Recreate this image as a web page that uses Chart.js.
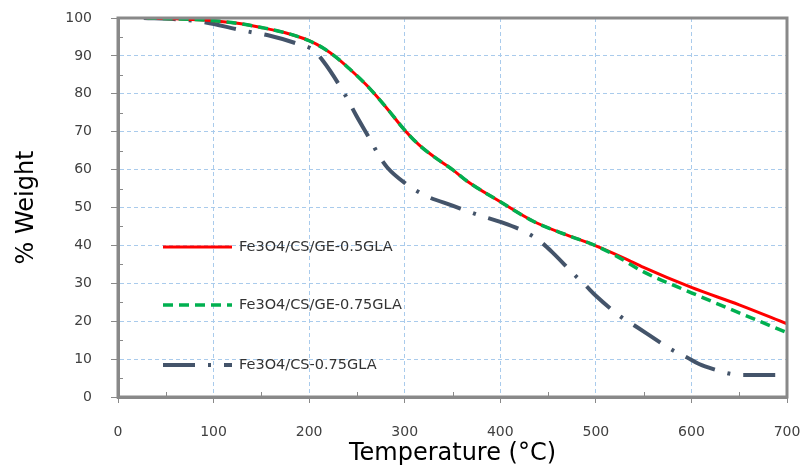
<!DOCTYPE html>
<html>
<head>
<meta charset="utf-8">
<script src="https://cdn.jsdelivr.net/npm/chart.js@4.4.1/dist/chart.umd.min.js"></script>
<style>
  html, body { margin: 0; padding: 0; background: #ffffff; }
  #wrap { width: 803px; height: 468px; }
</style>
</head>
<body>
<div id="wrap"><canvas id="tga" width="803" height="468"></canvas></div>
<script>
// TGA curves: temperature (°C) and residual weight (%)
const seriesNames = ['Fe3O4/CS/GE-0.5GLA', 'Fe3O4/CS/GE-0.75GLA', 'Fe3O4/CS-0.75GLA'];

const tempGe05 = [30, 60, 100, 125, 150, 175, 200, 215, 230, 243, 260, 280, 300, 315, 330, 350, 365, 400, 435, 470, 500, 530, 550, 600, 650, 700];
const weightGe05 = [100, 99.8, 99.3, 98.6, 97.5, 96.1, 94.0, 92.0, 89.3, 86.4, 82.3, 76.6, 70.4, 66.5, 63.5, 60.0, 57.0, 51.5, 46.3, 42.7, 39.9, 36.6, 34.2, 28.9, 24.3, 19.3];

const tempGe075 = [30, 60, 100, 125, 150, 175, 200, 215, 230, 243, 260, 280, 300, 315, 330, 350, 365, 400, 435, 470, 500, 520, 550, 600, 650, 700];
const weightGe075 = [100, 99.8, 99.3, 98.6, 97.5, 96.1, 94.0, 92.0, 89.3, 86.4, 82.3, 76.6, 70.4, 66.5, 63.5, 60.0, 57.0, 51.5, 46.3, 42.7, 39.9, 37.4, 33.0, 27.5, 22.2, 17.0];

const tempCs075 = [27, 60, 92, 125, 141, 156, 189, 204, 215, 233, 241, 249, 265, 273, 282, 300, 322, 350, 382, 400, 428, 442, 454, 477, 489, 500, 525, 539, 553, 580, 595, 608, 625, 641, 656, 672, 700];
const weightCs075 = [100, 99.7, 98.8, 97.0, 96.2, 95.5, 93.1, 91.6, 88.5, 81.7, 78.2, 74.4, 67.4, 63.7, 60.5, 56.5, 53.1, 50.5, 47.6, 46.2, 43.3, 41.0, 38.3, 32.4, 29.5, 26.7, 21.4, 19.1, 16.8, 12.4, 10.5, 8.7, 7.2, 6.1, 5.8, 5.8, 5.8];

const xTicks = [0, 100, 200, 300, 400, 500, 600, 700];
const yTicks = [0, 10, 20, 30, 40, 50, 60, 70, 80, 90, 100];

const toPoints = (xs, ys) => xs.map((x, i) => ({ x: x, y: ys[i] }));

const AXIS_GREY = '#898989';
const GRID_BLUE = '#A9CBEC';
const LABEL_FONT = "'DejaVu Sans', 'Noto Sans', sans-serif";

// Frame around the plot plus small inward minor ticks
const framePlugin = {
  id: 'frame',
  afterDraw(chart) {
    const { ctx, chartArea: a, scales } = chart;
    ctx.save();
    ctx.strokeStyle = AXIS_GREY;
    ctx.lineWidth = 1;
    ctx.setLineDash([]);
    ctx.beginPath();
    for (let v = 50; v < 700; v += 100) {
      const px = Math.round(scales.x.getPixelForValue(v)) + 0.5;
      ctx.moveTo(px, a.bottom);
      ctx.lineTo(px, a.bottom - 5);
    }
    for (let v = 5; v < 100; v += 10) {
      const py = Math.round(scales.y.getPixelForValue(v)) + 0.5;
      ctx.moveTo(a.left, py);
      ctx.lineTo(a.left + 5, py);
    }
    ctx.stroke();
    ctx.lineWidth = 3;
    ctx.strokeRect(a.left, a.top, a.right - a.left, a.bottom - a.top);
    ctx.restore();
  }
};

// Legend drawn inside the plot, one entry per row
const innerLegend = {
  id: 'innerLegend',
  afterDatasetsDraw(chart) {
    const { ctx } = chart;
    const rows = [247, 305, 365];
    ctx.save();
    chart.data.datasets.forEach((ds, r) => {
      const y = rows[r];
      ctx.strokeStyle = ds.borderColor;
      ctx.lineWidth = ds.borderWidth;
      ctx.setLineDash(ds.borderDash || []);
      ctx.lineCap = 'butt';
      ctx.beginPath();
      ctx.moveTo(163, y);
      ctx.lineTo(232, y);
      ctx.stroke();
      ctx.setLineDash([]);
      ctx.fillStyle = '#333333';
      ctx.font = "14.5px " + LABEL_FONT;
      ctx.textBaseline = 'middle';
      ctx.textAlign = 'left';
      ctx.fillText(ds.label, 239, y);
    });
    ctx.restore();
  }
};

new Chart(document.getElementById('tga'), {
  type: 'line',
  data: {
    datasets: [
      {
        label: seriesNames[0],
        data: toPoints(tempGe05, weightGe05),
        borderColor: '#FF0000',
        borderWidth: 3,
        borderDash: [],
        order: 1
      },
      {
        label: seriesNames[1],
        data: toPoints(tempGe075, weightGe075),
        borderColor: '#00B050',
        borderWidth: 3.5,
        borderDash: [10, 6],
        order: 0
      },
      {
        label: seriesNames[2],
        data: toPoints(tempCs075, weightCs075),
        borderColor: '#44546A',
        borderWidth: 4,
        borderDash: [32, 13, 3, 13],
        order: 2
      }
    ]
  },
  options: {
    responsive: false,
    animation: false,
    devicePixelRatio: 1,
    layout: { padding: { left: 0, right: 16, top: 18, bottom: 0 } },
    elements: {
      point: { radius: 0 },
      line: { cubicInterpolationMode: 'monotone', fill: false }
    },
    plugins: {
      legend: { display: false },
      tooltip: { enabled: false }
    },
    scales: {
      x: {
        type: 'linear',
        min: 0,
        max: 700,
        afterBuildTicks(scale) { scale.ticks = xTicks.map(v => ({ value: v })); },
        afterFit(scale) {
          scale.height = 71;
          scale.paddingLeft = 0;
          scale.paddingRight = 0;
        },
        grid: {
          color: GRID_BLUE,
          lineWidth: 1,
          drawTicks: true,
          tickLength: 6,
          tickColor: AXIS_GREY,
          tickWidth: 1,
          tickBorderDash: []
        },
        border: { display: true, color: AXIS_GREY, width: 3, dash: [4, 3] },
        ticks: {
          color: '#404040',
          font: { family: LABEL_FONT, size: 14 },
          padding: 21,
          maxRotation: 0
        },
        title: {
          display: true,
          text: 'Temperature (°C)',
          color: '#000000',
          font: { family: LABEL_FONT, size: 24 },
          padding: { top: 0, bottom: 0 }
        }
      },
      y: {
        type: 'linear',
        min: 0,
        max: 100,
        afterBuildTicks(scale) { scale.ticks = yTicks.map(v => ({ value: v })); },
        afterFit(scale) {
          scale.width = 118;
          scale.paddingTop = 0;
          scale.paddingBottom = 0;
        },
        grid: {
          color: GRID_BLUE,
          lineWidth: 1,
          drawTicks: true,
          tickLength: 7,
          tickColor: AXIS_GREY,
          tickWidth: 1,
          tickBorderDash: []
        },
        border: { display: true, color: AXIS_GREY, width: 3, dash: [4, 3] },
        ticks: {
          color: '#404040',
          font: { family: LABEL_FONT, size: 14 },
          padding: 19
        },
        title: {
          display: true,
          text: '% Weight',
          color: '#000000',
          font: { family: LABEL_FONT, size: 24 },
          padding: { top: 12, bottom: 0 }
        }
      }
    }
  },
  plugins: [framePlugin, innerLegend]
});
</script>
</body>
</html>
